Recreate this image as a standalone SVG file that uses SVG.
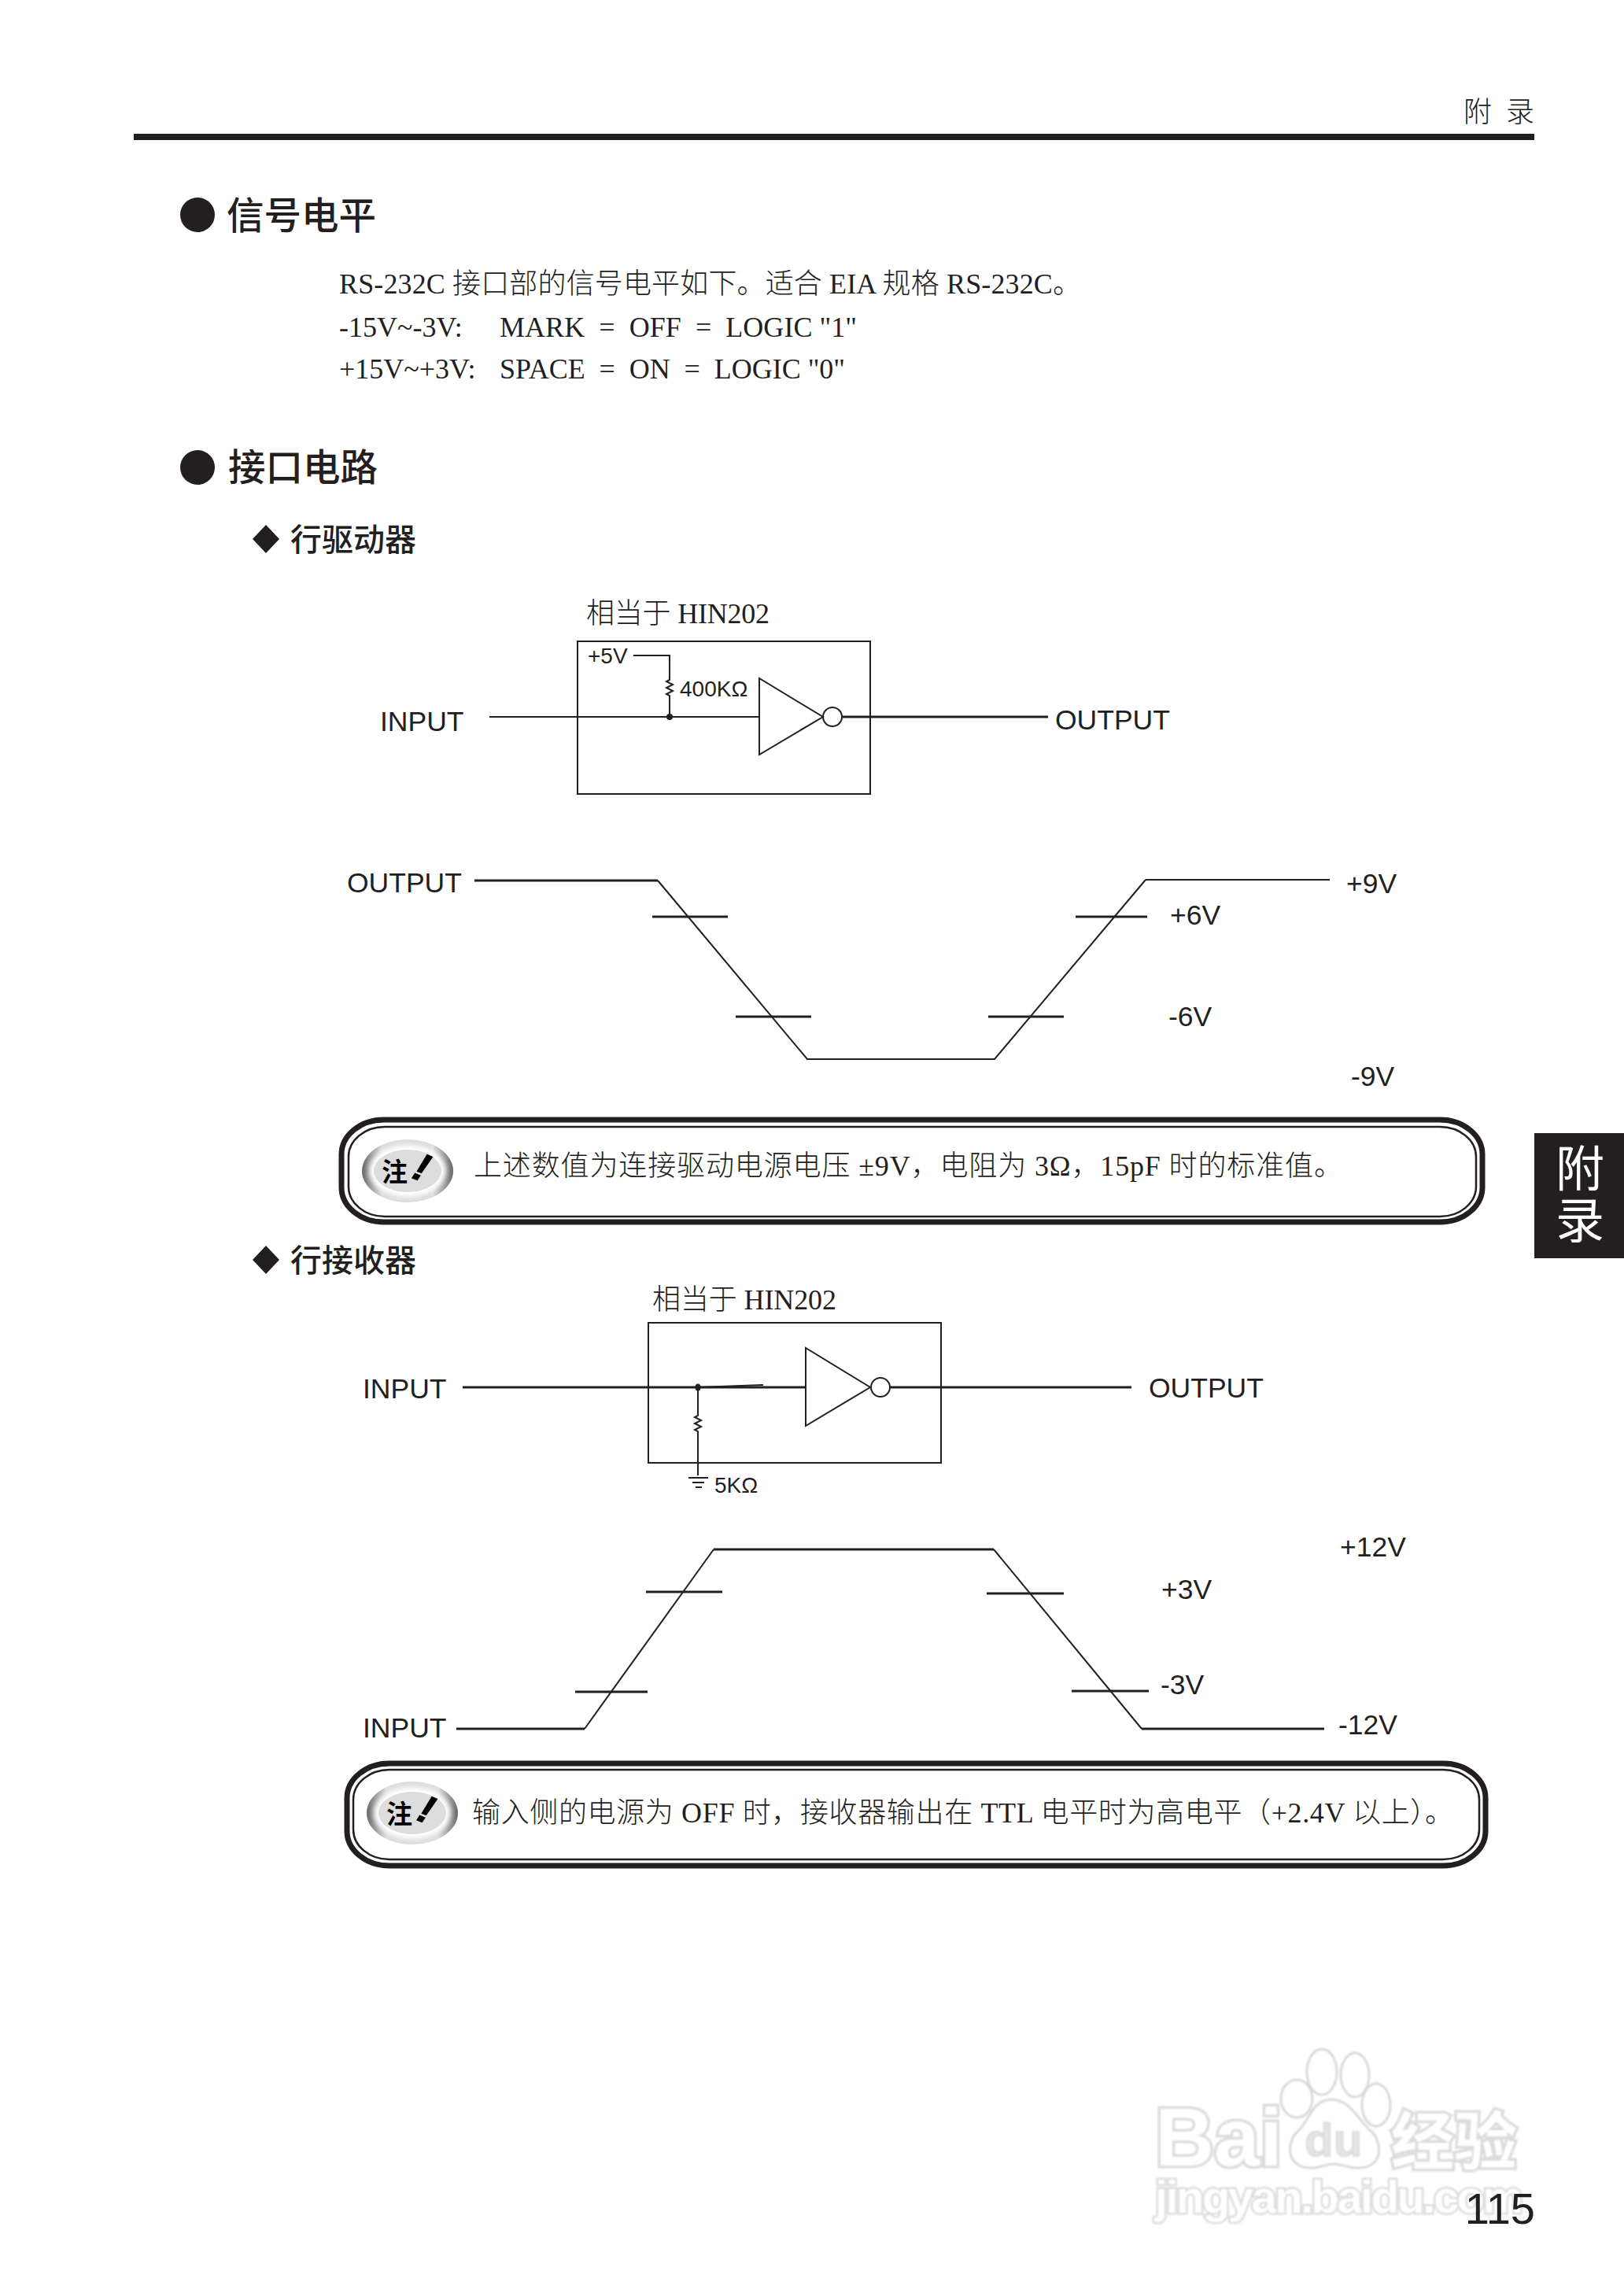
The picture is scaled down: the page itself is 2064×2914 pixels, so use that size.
<svg xmlns="http://www.w3.org/2000/svg" xmlns:xlink="http://www.w3.org/1999/xlink" width="2064" height="2914" viewBox="0 0 2064 2914">
<style>
.s{font-family:"Liberation Sans","Noto Sans CJK SC",sans-serif;fill:#231f20}
.l{font-size:35.5px}
.b{font-family:"Liberation Serif","Noto Sans CJK SC",serif;fill:#231f20;font-size:36px;font-weight:300;white-space:pre}
.h{font-family:"Noto Sans CJK SC",sans-serif;fill:#231f20;font-size:47.5px;font-weight:500}
.h2{font-family:"Noto Sans CJK SC",sans-serif;fill:#231f20;font-size:40px;font-weight:500}
.w{fill:none;stroke:#231f20;stroke-width:2}
.t{fill:none;stroke:#231f20;stroke-width:3}
.wm{font-family:"Liberation Sans","Noto Sans CJK SC",sans-serif;font-weight:700;fill:#fff;stroke:#dcdcdc;stroke-width:7;paint-order:stroke}
.paw{fill:#fff;stroke:#d8d8d8;stroke-width:3}
</style>
<defs>
<linearGradient id="ring" x1="0" x2="1" y1="0" y2="0"><stop offset="0" stop-color="#666"/><stop offset=".22" stop-color="#ddd"/><stop offset=".78" stop-color="#ddd"/><stop offset="1" stop-color="#666"/></linearGradient>
<filter id="soft" x="-20%" y="-20%" width="140%" height="140%"><feGaussianBlur stdDeviation="3"/></filter>
<filter id="wmblur" x="-5%" y="-5%" width="110%" height="110%"><feGaussianBlur stdDeviation="0.9"/></filter>
<g id="icon">
<ellipse cx="0" cy="0" rx="58" ry="40" fill="url(#ring)"/>
<ellipse cx="0" cy="0" rx="49" ry="33" fill="#fff" filter="url(#soft)"/>
<ellipse cx="0" cy="0" rx="43" ry="27" fill="#ddd"/>
<text x="-33" y="13" font-family="Noto Sans CJK SC,sans-serif" font-weight="700" font-size="33" fill="#000">注</text>
<text x="8" y="12" font-family="Liberation Sans,sans-serif" font-weight="700" font-style="italic" font-size="50" fill="#000" stroke="#000" stroke-width="1.2" transform="rotate(22 16 0)">!</text>
</g>
</defs>
<rect width="2064" height="2914" fill="#fff"/>

<g id="header">
<rect x="170" y="170" width="1780" height="8" fill="#231f20"/>
<text class="b" x="1860" y="155">附</text>
<text class="b" x="1914" y="155">录</text>
</g>

<g id="section-level">
<circle cx="251" cy="273" r="22" fill="#231f20"/>
<text class="h" x="288" y="291">信号电平</text>
<text class="b" x="431" y="373" textLength="943">RS-232C 接口部的信号电平如下。适合 EIA 规格 RS-232C。</text>
<text class="b" x="431" y="428">-15V~-3V:</text>
<text class="b" x="635" y="428" textLength="454">MARK  =  OFF  =  LOGIC "1"</text>
<text class="b" x="431" y="481">+15V~+3V:</text>
<text class="b" x="635" y="481" textLength="439">SPACE  =  ON  =  LOGIC "0"</text>
</g>

<g id="section-interface">
<circle cx="251" cy="594" r="22" fill="#231f20"/>
<text class="h" x="290" y="611">接口电路</text>
<path d="M338 667L355 685L338 703L321 685Z" fill="#231f20"/>
<text class="h2" x="369" y="700">行驱动器</text>
<path d="M338 1583L355 1601L338 1619L321 1601Z" fill="#231f20"/>
<text class="h2" x="369" y="1616">行接收器</text>
</g>

<g id="connectors">
<path class="w" d="M622 911H965"/>
<path class="t" d="M1070 911H1332"/>
<path class="w" d="M805 833H851V864l-4 2 8 4-8 4 8 4-8 4 4 2V911"/>
<path class="t" d="M603 1119H836"/>
<path class="w" d="M836 1119L1026 1346H1264L1456 1118"/>
<path class="w" d="M1456 1118H1690"/>
<path class="t" d="M829 1165H925M1367 1165H1458M935 1292H1031M1256 1292H1352"/>
<path class="t" d="M588 1763H1024"/>
<path class="w" d="M887 1763L970 1760"/>
<path class="t" d="M1131 1763H1438"/>
<path class="w" d="M887 1763V1799l-4 2 8 4-8 4 8 4-8 4 4 2V1875"/>
<path class="w" d="M875 1878H900" stroke-width="3"/>
<path class="w" d="M880 1884H895" stroke-width="3"/>
<path class="w" d="M884 1890H892" stroke-width="3"/>
<path class="t" d="M580 2197H743"/>
<path class="w" d="M743 2197L907 1969"/>
<path class="t" d="M907 1969H1263"/>
<path class="w" d="M1263 1969L1451 2197"/>
<path class="t" d="M1451 2197H1683"/>
<path class="t" d="M821 2023H918M1254 2025H1352M731 2150H823M1362 2149H1460"/>
</g>

<g id="driver">
<text class="b" x="745" y="792" textLength="233">相当于 HIN202</text>
<rect x="734" y="815" width="372" height="194" class="w"/>
<text class="s" x="747" y="843" font-size="28">+5V</text>
<text class="s" x="864" y="885" font-size="28">400KΩ</text>
<path class="w" d="M965 862V959L1046 911Z"/>
<circle cx="1058" cy="911" r="12" fill="#fff" class="w"/>
<circle cx="851" cy="911" r="4" fill="#231f20"/>
<text class="s l" x="483" y="929">INPUT</text>
<text class="s l" x="1341" y="927">OUTPUT</text>
</g>

<g id="driver-wave-labels">
<text class="s l" x="441" y="1134">OUTPUT</text>
<text class="s l" x="1711" y="1135">+9V</text>
<text class="s l" x="1487" y="1175">+6V</text>
<text class="s l" x="1485" y="1304">-6V</text>
<text class="s l" x="1717" y="1380">-9V</text>
</g>

<g id="note-1">
<rect x="434" y="1423" width="1450" height="130" rx="54" ry="44" fill="#fff" stroke="#231f20" stroke-width="7"/>
<rect x="443" y="1432" width="1433" height="114" rx="46" ry="38" fill="none" stroke="#231f20" stroke-width="2.5"/>
<use xlink:href="#icon" x="518" y="1488"/>
<text class="b" x="602" y="1494" textLength="1104">上述数值为连接驱动电源电压 ±9V，电阻为 3Ω，15pF 时的标准值。</text>
</g>

<g id="tab">
<rect x="1950" y="1440" width="114" height="159" fill="#231f20"/>
<text x="1977" y="1508" font-family="Noto Sans CJK SC,sans-serif" font-size="62" fill="#fff">附</text>
<text x="1977" y="1574" font-family="Noto Sans CJK SC,sans-serif" font-size="62" fill="#fff">录</text>
</g>

<g id="receiver">
<text class="b" x="829" y="1664" textLength="234">相当于 HIN202</text>
<rect x="824" y="1681" width="372" height="178" class="w"/>
<path class="w" d="M1024 1713V1812L1106 1763Z"/>
<circle cx="1119" cy="1763" r="12" fill="#fff" class="w"/>
<ellipse cx="887" cy="1763" rx="3.5" ry="4.5" fill="#231f20"/>
<text class="s" x="908" y="1897" font-size="28">5KΩ</text>
<text class="s l" x="461" y="1777">INPUT</text>
<text class="s l" x="1460" y="1776">OUTPUT</text>
</g>

<g id="receiver-wave-labels">
<text class="s l" x="461" y="2208">INPUT</text>
<text class="s l" x="1703" y="1978">+12V</text>
<text class="s l" x="1476" y="2032">+3V</text>
<text class="s l" x="1475" y="2153">-3V</text>
<text class="s l" x="1701" y="2204">-12V</text>
</g>

<g id="note-2">
<rect x="441" y="2241" width="1447" height="130" rx="54" ry="44" fill="#fff" stroke="#231f20" stroke-width="7"/>
<rect x="449" y="2249" width="1431" height="114" rx="46" ry="38" fill="none" stroke="#231f20" stroke-width="2.5"/>
<use xlink:href="#icon" x="524" y="2304"/>
<text class="b" x="600" y="2316" textLength="1247">输入侧的电源为 OFF 时，接收器输出在 TTL 电平时为高电平（+2.4V 以上）。</text>
</g>

<g id="watermark" filter="url(#wmblur)">
<text class="wm" x="1468" y="2752" font-size="104">Bai</text>
<ellipse class="paw" cx="1648" cy="2667" rx="20" ry="24"/>
<ellipse class="paw" cx="1680" cy="2633" rx="19" ry="29"/>
<ellipse class="paw" cx="1722" cy="2637" rx="18" ry="28"/>
<ellipse class="paw" cx="1749" cy="2675" rx="18" ry="27"/>
<path class="paw" d="M1692 2668C1668 2668 1664 2695 1650 2708C1634 2722 1634 2755 1666 2755C1680 2755 1685 2750 1695 2750C1705 2750 1712 2755 1727 2755C1758 2755 1758 2722 1742 2708C1727 2695 1716 2668 1692 2668Z"/>
<text x="1658" y="2740" font-family="Liberation Sans,sans-serif" font-weight="700" font-size="60" fill="#e4e4e4" stroke="#cfcfcf" stroke-width="1">du</text>
<text class="wm" x="1768" y="2750" font-size="80">经验</text>
<text class="wm" x="1468" y="2812" font-size="58" textLength="468" style="stroke-width:5">jingyan.baidu.com</text>
</g>

<g id="page-number">
<text x="1951" y="2826" text-anchor="end" font-family="Liberation Sans,sans-serif" font-size="56" fill="#231f20">115</text>
</g>
</svg>
